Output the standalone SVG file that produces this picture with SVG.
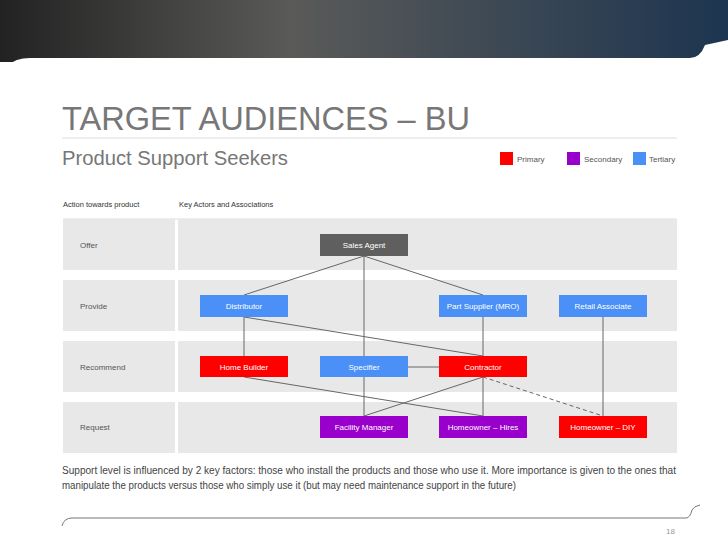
<svg xmlns="http://www.w3.org/2000/svg" width="728" height="546" viewBox="0 0 728 546">
<defs>
<linearGradient id="hdr" x1="0" y1="0" x2="1" y2="0">
<stop offset="0" stop-color="#222"/><stop offset="0.4" stop-color="#5a5a58"/><stop offset="1" stop-color="#1d3550"/>
</linearGradient>
<style>
text{font-family:"Liberation Sans",Arial,sans-serif}
.band{fill:#e8e8e8}
.n text{font-size:8px;fill:#fff;text-anchor:middle}
.lbl{font-size:8px;fill:#555}
.c line{stroke:#666;stroke-width:1}
.red{fill:#f00}.pur{fill:#90c}.blu{fill:#4a90f7}.gry{fill:#5f5f5f}
</style>
</defs>
<rect width="728" height="546" fill="#fff"/>
<rect width="728" height="62" fill="url(#hdr)"/>
<path d="M0 90 Q0 58 30 58 L690 58 Q700 58 705 45 L728 40 L728 546 L0 546 Z" fill="#fff"/>
<text x="62" y="130" font-size="33" fill="#777" textLength="408" lengthAdjust="spacingAndGlyphs">TARGET AUDIENCES – BU</text>
<line x1="62" y1="138" x2="677" y2="138" stroke="#ddd"/>
<text x="62" y="165" font-size="20" fill="#777" textLength="226" lengthAdjust="spacingAndGlyphs">Product Support Seekers</text>
<rect x="500" y="152" width="13" height="13" class="red"/><text x="517" y="162" class="lbl">Primary</text>
<rect x="567" y="152" width="13" height="13" class="pur"/><text x="584" y="162" class="lbl">Secondary</text>
<rect x="633" y="152" width="13" height="13" class="blu"/><text x="649" y="162" class="lbl">Tertiary</text>
<text x="63" y="207" font-size="7.5" fill="#333">Action towards product</text>
<text x="179" y="207" font-size="7.5" fill="#333">Key Actors and Associations</text>
<line x1="63" y1="219" x2="677" y2="219" stroke="#ddd"/>
<g id="bands">
<rect class="band" x="63" y="219" width="112" height="51"/><rect class="band" x="178" y="219" width="499" height="51"/>
<rect class="band" x="63" y="280" width="112" height="51"/><rect class="band" x="178" y="280" width="499" height="51"/>
<rect class="band" x="63" y="341" width="112" height="51"/><rect class="band" x="178" y="341" width="499" height="51"/>
<rect class="band" x="63" y="402" width="112" height="51"/><rect class="band" x="178" y="402" width="499" height="51"/>
<text x="80" y="248" class="lbl">Offer</text>
<text x="80" y="309" class="lbl">Provide</text>
<text x="80" y="370" class="lbl">Recommend</text>
<text x="80" y="430" class="lbl">Request</text>
</g>
<g class="c" id="connectors">
<line x1="364" y1="256" x2="244" y2="295"/>
<line x1="364" y1="256" x2="364" y2="356"/>
<line x1="364" y1="256" x2="483" y2="295"/>
<line x1="244" y1="317" x2="244" y2="356"/>
<line x1="244" y1="317" x2="483" y2="356"/>
<line x1="483" y1="317" x2="483" y2="356"/>
<line x1="603" y1="317" x2="603" y2="416"/>
<line x1="408" y1="367" x2="439" y2="367"/>
<line x1="364" y1="377" x2="364" y2="416"/>
<line x1="483" y1="377" x2="364" y2="416"/>
<line x1="483" y1="377" x2="483" y2="416"/>
<line x1="483" y1="377" x2="603" y2="416" stroke-dasharray="4,3"/>
<line x1="244" y1="377" x2="483" y2="416"/>
</g>
<g class="n" id="sales-agent"><rect class="gry" x="320" y="234" width="88" height="22"/><text x="364" y="248">Sales Agent</text></g>
<g class="n" id="distributor"><rect class="blu" x="200" y="295" width="88" height="22"/><text x="244" y="309">Distributor</text></g>
<g class="n" id="part-supplier"><rect class="blu" x="439" y="295" width="88" height="22"/><text x="483" y="309">Part Supplier (MRO)</text></g>
<g class="n" id="retail-associate"><rect class="blu" x="559" y="295" width="88" height="22"/><text x="603" y="309">Retail Associate</text></g>
<g class="n" id="home-builder"><rect class="red" x="200" y="356" width="88" height="21"/><text x="244" y="370">Home Builder</text></g>
<g class="n" id="specifier"><rect class="blu" x="320" y="356" width="88" height="21"/><text x="364" y="370">Specifier</text></g>
<g class="n" id="contractor"><rect class="red" x="439" y="356" width="88" height="21"/><text x="483" y="370">Contractor</text></g>
<g class="n" id="facility-manager"><rect class="pur" x="320" y="416" width="88" height="22"/><text x="364" y="430">Facility Manager</text></g>
<g class="n" id="homeowner-hires"><rect class="pur" x="439" y="416" width="88" height="22"/><text x="483" y="430">Homeowner – Hires</text></g>
<g class="n" id="homeowner-diy"><rect class="red" x="559" y="416" width="88" height="22"/><text x="603" y="430">Homeowner – DIY</text></g>
<text x="62" y="474" font-size="10" fill="#444" textLength="614" lengthAdjust="spacingAndGlyphs">Support level is influenced by 2 key factors: those who install the products and those who use it. More importance is given to the ones that</text>
<text x="62" y="489" font-size="10" fill="#444" textLength="454" lengthAdjust="spacingAndGlyphs">manipulate the products versus those who simply use it (but may need maintenance support in the future)</text>
<path d="M62 526 Q64 518 72 518 L686 518 Q690 518 692 510 Q694 506 700 505" fill="none" stroke="#777" stroke-width="1"/>
<text x="675" y="534" font-size="8" fill="#999" text-anchor="end">18</text>
</svg>
